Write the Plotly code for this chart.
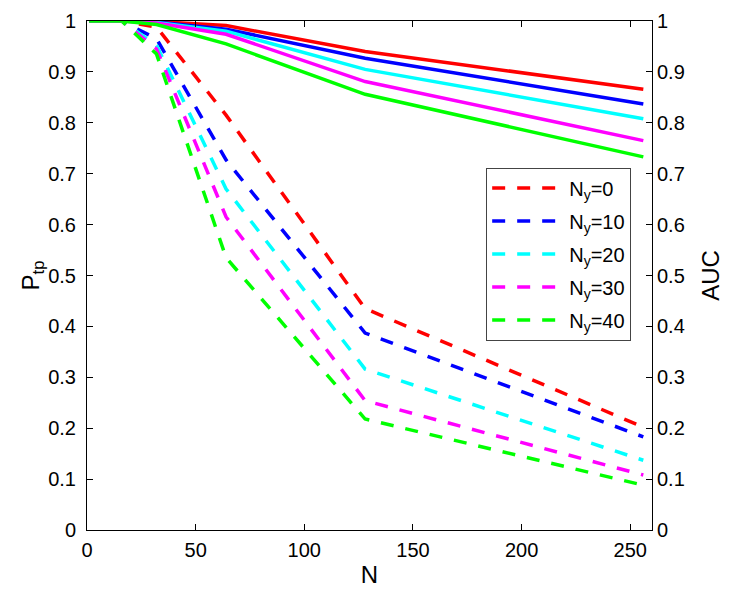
import plotly.graph_objects as go

N = [1, 2, 4, 8, 16, 32, 64, 128, 256]
labels = ["N<sub>y</sub>=0", "N<sub>y</sub>=10", "N<sub>y</sub>=20", "N<sub>y</sub>=30", "N<sub>y</sub>=40"]
colors = ["#FF0000", "#0000FF", "#00FFFF", "#FF00FF", "#00FF00"]

# dashed curves (P_tp, left axis)
ptp_0 = [1, 1, 1, 1, 1, 0.988, 0.815, 0.435, 0.202]
ptp_10 = [1, 1, 1, 1, 1, 0.965, 0.727, 0.387, 0.183]
ptp_20 = [1, 1, 1, 1, 1, 0.952, 0.670, 0.316, 0.137]
ptp_30 = [1, 1, 1, 1, 1, 0.945, 0.615, 0.254, 0.108]
ptp_40 = [1, 1, 1, 1, 1, 0.935, 0.535, 0.218, 0.088]

# solid curves (AUC, right axis)
auc_0 = [1, 1, 1, 1, 1, 0.999, 0.991, 0.940, 0.866]
auc_10 = [1, 1, 1, 1, 1, 0.998, 0.984, 0.927, 0.837]
auc_20 = [1, 1, 1, 1, 1, 0.997, 0.980, 0.905, 0.808]
auc_30 = [1, 1, 1, 1, 1, 0.996, 0.974, 0.881, 0.765]
auc_40 = [1, 1, 1, 1, 1, 0.993, 0.955, 0.856, 0.733]

ptp = [ptp_0, ptp_10, ptp_20, ptp_30, ptp_40]
auc = [auc_0, auc_10, auc_20, auc_30, auc_40]

y_ticks = [i / 10 for i in range(11)]
y_ticktext = ["0", "0.1", "0.2", "0.3", "0.4", "0.5", "0.6", "0.7", "0.8", "0.9", "1"]
x_ticks = [0, 50, 100, 150, 200, 250]

FONT = "Liberation Sans, Arial, sans-serif"

fig = go.Figure()
for lab, col, yv in zip(labels, colors, ptp):
    fig.add_trace(go.Scatter(x=N, y=yv, mode="lines", name=lab, legendgroup=lab,
                             line=dict(color=col, width=3.5, dash="13px,12px")))
for lab, col, yv in zip(labels, colors, auc):
    fig.add_trace(go.Scatter(x=N, y=yv, mode="lines", name=lab, showlegend=False,
                             yaxis="y2", line=dict(color=col, width=3.5)))

axis_common = dict(showline=True, linecolor="black", linewidth=1, ticks="inside",
                   ticklen=6, tickcolor="black", showgrid=False, zeroline=False,
                   ticklabeloverflow="allow",
                   tickfont=dict(size=20, color="black", family=FONT))

fig.update_layout(
    width=730, height=596,
    margin=dict(l=87, r=74, t=10, b=66),
    paper_bgcolor="white", plot_bgcolor="white",
    font=dict(family=FONT, size=20, color="black"),
    xaxis=dict(range=[0, 260], tickvals=x_ticks, mirror="ticks",
               ticklabelstandoff=2,
               title=dict(text="N", standoff=6), **axis_common),
    yaxis=dict(range=[0, 1], tickvals=y_ticks, ticktext=y_ticktext,
               ticklabelstandoff=6,
               title=dict(text="P<sub>tp</sub>", standoff=0), **axis_common),
    yaxis2=dict(range=[0, 1], overlaying="y", side="right",
                tickvals=y_ticks, ticktext=y_ticktext,
                title=dict(text="AUC", standoff=18), **axis_common),
    legend=dict(x=0.7065, y=0.712, xanchor="left", yanchor="top",
                bgcolor="white", bordercolor="#444444", borderwidth=1,
                font=dict(size=20, family=FONT, color="black"),
                itemwidth=72, tracegroupgap=4),
    showlegend=True,
)

fig.write_html("out.html")
